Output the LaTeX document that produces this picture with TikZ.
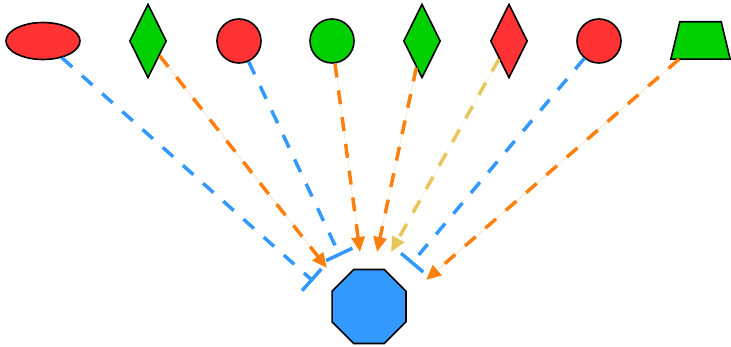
\documentclass[tikz,border=0pt]{standalone}
\usetikzlibrary{shapes.geometric,arrows.meta}
\definecolor{cblue}{HTML}{3399FF}
\definecolor{cred}{HTML}{FF3333}
\definecolor{cgreen}{HTML}{00D000}
\definecolor{corange}{HTML}{FF7F0E}
\definecolor{cyellow}{HTML}{E8C75A}
\tikzset{
  shp/.style={draw=black, line width=1.6pt, inner sep=0pt},
  ell/.style={shp, ellipse, minimum width=74pt, minimum height=37pt},
  dia/.style={shp, diamond, minimum width=37pt, minimum height=74pt, shape aspect=0.5},
  circ/.style={shp, circle, minimum size=44pt},
  trapbox/.style={rectangle, inner sep=0pt, minimum width=59pt, minimum height=37pt},
  oct/.style={shp, regular polygon, regular polygon sides=8, minimum size=80pt},
  conn/.style={line width=3.5pt, dash pattern=on 14pt off 13pt},
  tri/.style={conn, -{Triangle[length=15pt,width=13pt]}},
  tee/.style={conn, -{Bar[width=29pt,line width=3.5pt]}},
}
\begin{document}
\begin{tikzpicture}[x=1pt,y=-1pt]
\useasboundingbox (0,0) rectangle (731,347);
\node[ell, fill=cred] (s1) at (43,41) {};
\node[dia, fill=cgreen] (s2) at (148,41) {};
\node[circ, fill=cred] (s3) at (239,41) {};
\node[circ, fill=cgreen] (s4) at (332,41) {};
\node[dia, fill=cgreen] (s5) at (422,41) {};
\node[dia, fill=cred] (s6) at (509,41) {};
\node[circ, fill=cred] (s7) at (599,41) {};
\node[trapbox] (s8) at (700.5,40.5) {};
\draw[shp, fill=cgreen, line join=miter] (s8.south west) -- (s8.south east)
  -- ([xshift=-9pt]s8.north east) -- ([xshift=9pt]s8.north west) -- cycle;
\node[oct, fill=cblue] (o) at (369,306.5) {};
\coordinate (e1) at (313,281);
\coordinate (e2) at (327,268);
\coordinate (e3) at (340,256);
\coordinate (e4) at (360,252);
\coordinate (e5) at (377,252);
\coordinate (e6) at (391,252);
\coordinate (e7) at (411,264);
\coordinate (e8) at (426,280);
\draw[tee, draw=cblue] (s1) -- (e1);
\draw[tri, draw=corange, fill=corange] (s2) -- (e2);
\draw[tee, draw=cblue] (s3) -- (e3);
\draw[tri, draw=corange, fill=corange] (s4) -- (e4);
\draw[tri, draw=corange, fill=corange] (s5) -- (e5);
\draw[tri, draw=cyellow, fill=cyellow] (s6) -- (e6);
\draw[tee, draw=cblue] (s7) -- (e7);
\draw[tri, draw=corange, fill=corange] (s8) -- (e8);
\end{tikzpicture}
\end{document}
